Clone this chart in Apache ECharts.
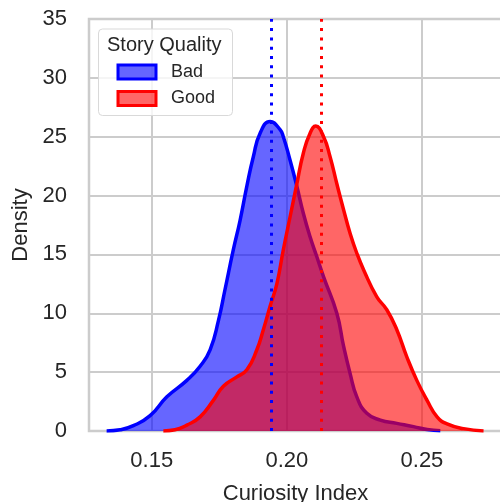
<!DOCTYPE html>
<html>
<head>
<meta charset="utf-8">
<script src="https://cdn.jsdelivr.net/npm/echarts@6/dist/echarts.min.js"></script>
<style>html,body{margin:0;padding:0;background:#fff}#c{width:500px;height:502px}</style>
</head>
<body>
<div id="c"></div>
<script>
const badCuriosity = [0.1333,0.1383,0.1432,0.1494,0.1556,0.1630,0.1679,0.1716,0.1747,0.1771,0.1802,0.1827,0.1852,0.1876,0.1901,0.1938,0.1975,0.1987,0.2012,0.2037,0.2061,0.2086,0.2111,0.2136,0.2185,0.2210,0.2234,0.2259,0.2296,0.2346,0.2407,0.2469,0.2519,0.2568];
const badDensity   = [0.0,0.1,0.45,1.3,2.9,4.3,5.5,6.9,9.4,12.0,15.4,17.9,20.8,23.3,25.3,26.3,25.6,25.0,23.0,20.8,18.5,16.5,14.8,13.1,10.0,7.2,4.9,2.9,1.5,0.93,0.65,0.37,0.12,0.02];
const goodCuriosity = [0.1543,0.1586,0.1630,0.1679,0.1728,0.1765,0.1815,0.1852,0.1889,0.1913,0.1938,0.1963,0.1987,0.2012,0.2037,0.2061,0.2086,0.2107,0.2136,0.2160,0.2185,0.2210,0.2234,0.2259,0.2286,0.2333,0.2370,0.2407,0.2444,0.2481,0.2519,0.2556,0.2593,0.2654,0.2728];
const goodDensity   = [0.0,0.1,0.5,1.2,2.6,3.8,4.6,5.2,6.9,8.6,10.6,12.5,15.4,18.2,21.0,23.6,25.3,25.9,25.0,23.3,21.0,18.8,16.8,15.1,13.6,11.4,10.3,8.6,6.3,4.3,2.6,1.2,0.6,0.2,0.0];
const meanBad = 0.1942;
const meanGood = 0.2126;
const xTicks = [0.15, 0.20, 0.25];
const yTicks = [0, 5, 10, 15, 20, 25, 30, 35];
const seriesNames = ['Bad', 'Good'];
const legendTitle = 'Story Quality';
const xName = 'Curiosity Index';
const yName = 'Density';

const FONT = 'Liberation Sans';
const TXT = '#262626';
const GRID = '#cccccc';

const zip = (a, b) => a.map((v, i) => [v, b[i]]);

const chart = echarts.init(document.getElementById('c'), null, {renderer: 'canvas'});
chart.setOption({
  animation: false,
  backgroundColor: '#ffffff',
  grid: {left: 89, top: 19, width: 413, height: 412, outerBoundsMode: 'none', containLabel: false,
    show: true, borderColor: GRID, borderWidth: 2.5, backgroundColor: 'transparent'},
  xAxis: {
    type: 'value', min: 0.12678, max: 0.27963,
    name: xName, nameLocation: 'middle', nameGap: 52,
    nameTextStyle: {fontFamily: FONT, fontSize: 22, color: TXT},
    axisLine: {show: false}, axisTick: {show: false, customValues: xTicks},
    axisLabel: {customValues: xTicks, margin: 19, fontFamily: FONT, fontSize: 22, color: TXT,
      formatter: v => v.toFixed(2)},
    splitLine: {show: true, lineStyle: {color: GRID, width: 2}}
  },
  yAxis: {
    type: 'value', min: yTicks[0], max: yTicks[yTicks.length - 1], interval: 5,
    name: yName, nameLocation: 'middle', nameGap: 57, nameRotate: 90,
    nameTextStyle: {fontFamily: FONT, fontSize: 22, color: TXT},
    axisLine: {show: false}, axisTick: {show: false},
    axisLabel: {margin: 22, fontFamily: FONT, fontSize: 22, color: TXT},
    splitLine: {show: true, lineStyle: {color: GRID, width: 2}}
  },
  graphic: [
    {type: 'rect', z: 100, shape: {x: 98.5, y: 29, width: 134, height: 86.5, r: 4},
     style: {fill: 'rgba(255,255,255,0.8)', stroke: '#d9d9d9', lineWidth: 1}},
    {type: 'text', z: 101, x: 107, y: 45.5,
     style: {text: legendTitle, font: '20px "Liberation Sans"', fill: TXT, textVerticalAlign: 'middle'}}
  ],
  legend: {
    orient: 'vertical', left: 116.5, top: 63, padding: 0, itemGap: 8.4,
    itemWidth: 38, itemHeight: 14, icon: 'rect', z: 102,
    textStyle: {fontFamily: FONT, fontSize: 18, color: TXT, padding: [0, 0, 0, 10]},
    data: [
      {name: seriesNames[0], itemStyle: {color: 'rgba(0,0,255,0.6)', borderColor: '#0000ff', borderWidth: 3}},
      {name: seriesNames[1], itemStyle: {color: 'rgba(255,0,0,0.6)', borderColor: '#ff0000', borderWidth: 3}}
    ]
  },
  series: [
    {name: seriesNames[0], type: 'line', z: 2, data: zip(badCuriosity, badDensity), smooth: 0.5,
     symbol: 'none', lineStyle: {color: '#0000ff', width: 3.5}, itemStyle: {color: '#0000ff'},
     areaStyle: {color: 'rgba(0,0,255,0.6)', opacity: 1}},
    {name: seriesNames[1], type: 'line', z: 3, data: zip(goodCuriosity, goodDensity), smooth: 0.5,
     symbol: 'none', lineStyle: {color: '#ff0000', width: 3.5}, itemStyle: {color: '#ff0000'},
     areaStyle: {color: 'rgba(255,0,0,0.6)', opacity: 1},
     markLine: {silent: true, symbol: 'none', precision: 4, label: {show: false},
       data: [
         {xAxis: meanBad, lineStyle: {color: '#0000ff', width: 3, type: [3, 6.3]}},
         {xAxis: meanGood, lineStyle: {color: '#ff0000', width: 3, type: [3, 6.3]}}
       ]}}
  ]
});
</script>
</body>
</html>
